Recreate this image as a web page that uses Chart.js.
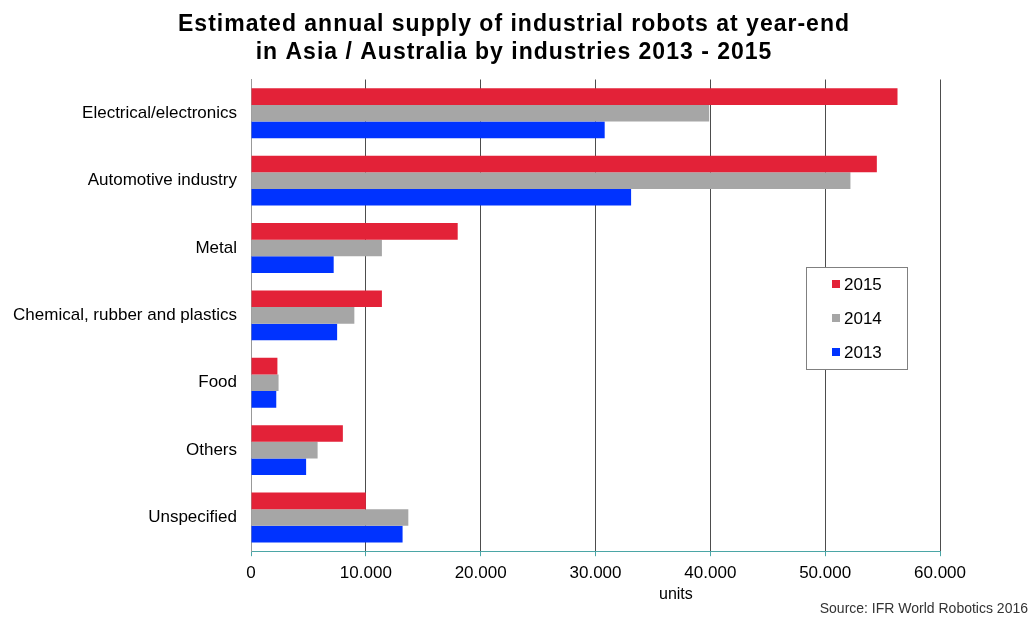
<!DOCTYPE html>
<html lang="en">

<head>
  <meta charset="UTF-8">
  <meta name="viewport" content="width=device-width, initial-scale=1.0">
  <script src="https://cdn.jsdelivr.net/npm/chart.js@4.4.0/dist/chart.umd.min.js"></script>
  <style>
    body {
      margin: 0;
      background: #fff;
    }

    #wrap {
      width: 1032px;
      height: 619px;
    }
  </style>
  <title>Industrial robots Asia / Australia</title>
</head>

<body>
  <div id="wrap">
    <canvas id="chart"></canvas>
  </div>

  <script>
    // industries and yearly supply (units)
    const industries = [
      'Electrical/electronics',
      'Automotive industry',
      'Metal',
      'Chemical, rubber and plastics',
      'Food',
      'Others',
      'Unspecified'
    ]
    const years = ['2015', '2014', '2013']
    const supply2015 = [56300, 54500, 18000, 11400, 2300, 8000, 10000]
    const supply2014 = [39900, 52200, 11400, 9000, 2400, 5800, 13700]
    const supply2013 = [30800, 33100, 7200, 7500, 2200, 4800, 13200]
    const xTicks = [0, 10000, 20000, 30000, 40000, 50000, 60000]

    const colors = ['#e32238', '#a6a6a6', '#0033ff']
    const font = '"Liberation Sans", Arial, sans-serif'

    // thousands separator like "10.000"
    function fmt(v) {
      return String(v).replace(/\B(?=(\d{3})+(?!\d))/g, '.')
    }

    // the title in the original is spaced out a little
    const spacedTitle = {
      id: 'spacedTitle',
      afterInit(chart) {
        const tb = chart.titleBlock
        const orig = tb.draw.bind(tb)
        tb.draw = function () {
          chart.ctx.save()
          chart.ctx.letterSpacing = '1px'
          orig()
          chart.ctx.restore()
        }
      }
    }

    // legend box inside the plot + the "units" label, as in the original
    const boxLegend = {
      id: 'boxLegend',
      afterDraw(chart) {
        const ctx = chart.ctx
        const x = 806, y = 267, w = 101, h = 102
        ctx.save()
        ctx.fillStyle = '#fff'
        ctx.fillRect(x, y, w, h)
        ctx.strokeStyle = '#808080'
        ctx.lineWidth = 1
        ctx.strokeRect(x + 0.5, y + 0.5, w, h)
        ctx.font = '17px ' + font
        ctx.textBaseline = 'middle'
        chart.data.datasets.forEach(function (ds, i) {
          const cy = y + 17 + i * 34
          ctx.fillStyle = ds.backgroundColor
          ctx.fillRect(x + 26, cy - 4, 8, 8)
          ctx.fillStyle = '#000'
          ctx.fillText(ds.label, x + 38, cy + 1)
        })

        // axis unit, sits right of centre in the original
        ctx.font = '16px ' + font
        ctx.textAlign = 'center'
        ctx.fillText('units', chart.scales.x.getPixelForValue(37000), 595)
        ctx.restore()
      }
    }

    const data = {
      labels: industries,
      datasets: [
        { label: years[0], data: supply2015, backgroundColor: colors[0] },
        { label: years[1], data: supply2014, backgroundColor: colors[1] },
        { label: years[2], data: supply2013, backgroundColor: colors[2] }
      ]
    }

    const config = {
      type: 'bar',
      data: data,
      plugins: [spacedTitle, boxLegend],
      options: {
        indexAxis: 'y',
        responsive: true,
        maintainAspectRatio: false,
        animation: false,
        layout: { padding: { left: 0, right: 4, top: 0, bottom: 0 } },
        datasets: {
          bar: { categoryPercentage: 0.74, barPercentage: 1.0 }
        },
        plugins: {
          legend: { display: false },
          tooltip: { enabled: false },
          title: {
            display: true,
            text: ['Estimated annual supply of industrial robots at year-end',
              'in Asia / Australia by industries 2013 - 2015'],
            color: '#000',
            font: { family: font, size: 23, weight: 'bold', lineHeight: 1.25 },
            padding: { top: 10, bottom: 12 }
          },
          subtitle: {
            display: true,
            position: 'bottom',
            align: 'end',
            text: 'Source: IFR World Robotics 2016',
            color: '#333',
            font: { family: font, size: 14 },
            padding: { top: 0, bottom: 1 }
          }
        },
        scales: {
          x: {
            min: 0,
            max: 60000,
            afterBuildTicks: function (axis) {
              axis.ticks = xTicks.map(function (v) { return { value: v } })
            },
            afterFit: function (axis) { axis.height = 50 },
            ticks: {
              color: '#000',
              padding: 7,
              font: { family: font, size: 17 },
              callback: function (v) { return fmt(v) }
            },
            grid: {
              drawTicks: true,
              tickLength: 5,
              tickColor: '#4ba6a6',
              color: function (c) { return c.tick && c.tick.value === 0 ? 'rgba(0,0,0,0)' : '#4d4d4d' },
              lineWidth: 1
            },
            border: { display: true, color: '#4ba6a6', width: 1 }
          },
          y: {
            afterFit: function (axis) { axis.width = 251 },
            ticks: {
              color: '#000',
              padding: 14,
              font: { family: font, size: 17 }
            },
            grid: { display: false, drawTicks: false },
            border: { display: true, color: '#999', width: 1 }
          },
          // empty right-hand axis, only keeps the space right of the plot
          pad: {
            type: 'linear',
            position: 'right',
            display: true,
            afterFit: function (axis) { axis.width = 88 },
            ticks: { display: false },
            grid: { display: false, drawTicks: false },
            border: { display: false }
          }
        }
      }
    }

    const chart = new Chart(document.getElementById('chart'), config)
  </script>
</body>

</html>
